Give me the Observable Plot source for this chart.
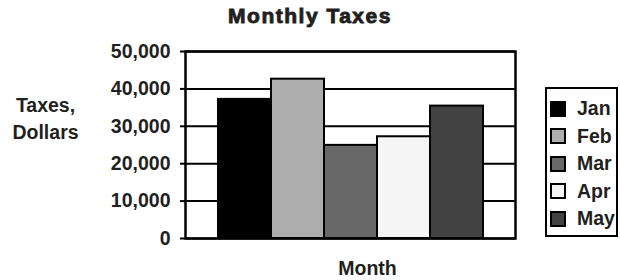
<!DOCTYPE html>
<html>
<head>
<meta charset="utf-8">
<script src="https://cdn.jsdelivr.net/npm/d3@7"></script>
<script src="https://cdn.jsdelivr.net/npm/@observablehq/plot@0.6"></script>
<style>
  html, body { margin: 0; padding: 0; background: #fff; }
  #wrap { position: relative; width: 620px; height: 280px; font-family: "Liberation Sans", Arial, Helvetica, sans-serif; color: #231f20; overflow: hidden; }
  #title { height: 32px; box-sizing: border-box; padding-top: 5px; width: 620px; text-align: center; font-size: 21px; line-height: 21px; font-weight: bold; letter-spacing: 1.5px; -webkit-text-stroke: 0.9px #231f20; }
  #legend { position: absolute; left: 545px; top: 87px; width: 73px; height: 150px; box-sizing: border-box; border: 2px solid #000; padding: 6px 0 0 3px; background: #fff; }
  .item { height: 27.5px; display: flex; align-items: center; font-size: 19.5px; font-weight: bold; }
  .sw { width: 16px; height: 16px; box-sizing: border-box; border: 2px solid #000; margin-right: 11px; flex: none; }
</style>
</head>
<body>
<div id="wrap">
  <div id="title"></div>
  <div id="chart"></div>
  <div id="legend"></div>
</div>
<script>
const chartTitle = "Monthly Taxes";
const yLabel = "Taxes,\nDollars";
const xLabel = "Month";
const months = ["Jan", "Feb", "Mar", "Apr", "May"];
const taxes = [37200, 42600, 24900, 27200, 35400];
const colors = ["#000000", "#adadad", "#686868", "#f5f5f5", "#424242"];
const yTicks = [0, 10000, 20000, 30000, 40000, 50000];

const data = months.map((m, i) => ({month: m, value: taxes[i]}));

document.getElementById("title").textContent = chartTitle;

const chart = Plot.plot({
  width: 620,
  height: 248,
  marginTop: 19,
  marginBottom: 42,
  marginLeft: 185,
  marginRight: 105,
  style: {fontFamily: "'Liberation Sans', Arial, Helvetica, sans-serif", fontSize: "19px", fontWeight: "bold", color: "#231f20", background: "transparent", overflow: "visible"},
  x: {type: "band", domain: months, paddingInner: 0, paddingOuter: 0.6, axis: null},
  y: {domain: [0, 50000], axis: null},
  color: {type: "ordinal", domain: months, range: colors},
  marks: [
    Plot.ruleY(yTicks, {stroke: "#000", strokeWidth: 2}),
    Plot.barY(data, {x: "month", y: "value", fill: "month", stroke: "#000", strokeWidth: 2}),
    Plot.frame({stroke: "#000", strokeWidth: 2.5}),
    Plot.axisY({ticks: yTicks, tickSize: 5, tickPadding: 10, tickFormat: d3.format(","), stroke: "#000", strokeWidth: 2, fill: "#231f20", fontSize: 19.5, fontWeight: "bold", label: null}),
    Plot.text([yLabel], {frameAnchor: "left", dx: -140, dy: -28, text: d => d, fontSize: 19.5, fontWeight: "bold", lineHeight: 1.4, textAnchor: "middle", fill: "#231f20"}),
    Plot.text([xLabel], {frameAnchor: "bottom", dx: 17, dy: 36, text: d => d, fontSize: 19.5, fontWeight: "bold", textAnchor: "middle", fill: "#231f20"})
  ]
});
document.getElementById("chart").appendChild(chart);

const legend = document.getElementById("legend");
months.forEach((m, i) => {
  const row = document.createElement("div");
  row.className = "item";
  const sw = document.createElement("span");
  sw.className = "sw";
  sw.style.background = colors[i];
  const lab = document.createElement("span");
  lab.textContent = m;
  row.appendChild(sw);
  row.appendChild(lab);
  legend.appendChild(row);
});
</script>
</body>
</html>
